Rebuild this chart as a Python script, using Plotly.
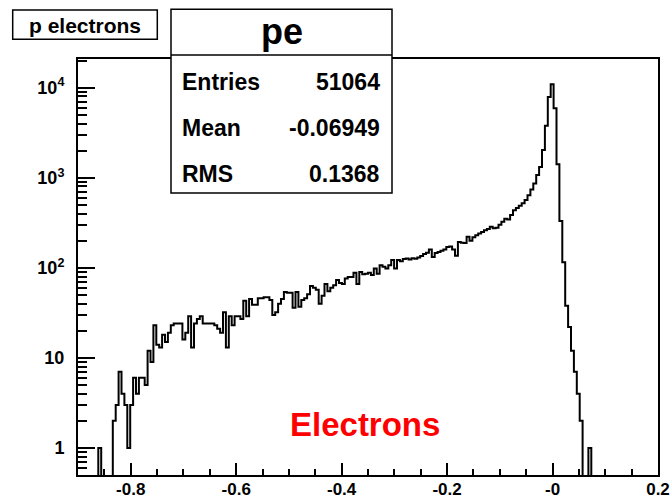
import numpy as np
import plotly.graph_objects as go

# Histogram "pe": 200 bins from -0.9 to 0.2 (bin width 0.0055)
x_min, x_max, n_bins = -0.9, 0.2, 200

counts_low = [0, 0, 0, 0, 0, 0, 0, 1, 0, 0, 0, 0,
              2, 3, 7, 4, 3, 1, 3, 6, 4, 6, 6, 5]
counts_tail = [12, 9, 23, 14, 13, 18, 15, 19, 23, 24,
               24, 24, 16, 19, 29, 13, 24, 27, 29, 24,
               24, 24, 24, 23, 21, 19, 32, 13, 29, 23,
               29, 29, 27, 43, 29]
counts_mid = [45, 39, 39, 46, 46, 47, 47, 44, 30, 32,
              40, 45, 54, 53, 53, 36, 54, 37, 44, 46,
              51, 63, 60, 57, 40, 49, 66, 55, 60, 64,
              73, 68, 66, 76, 79, 79,
              88, 66, 90, 85, 86, 88, 83, 98, 86, 107,
              103, 98, 107, 122, 98, 122]
counts_rise = [118, 125, 127, 124, 128, 126, 130, 135, 142, 147,
               160, 132, 146, 150, 155, 160, 170, 172, 160, 136,
               194, 190, 188, 221, 200, 218, 230, 240, 250, 262,
               270, 285, 275, 278, 300, 324, 350, 345, 385, 437,
               463, 490, 520, 565, 640, 743, 866, 1072, 1320, 2030]
counts_peak = [3780, 7900, 10900, 5900, 1409, 330, 115, 38, 22, 12, 7, 4, 2,
               0, 0, 1]
counts_high = [0] * 23

counts = counts_low + counts_tail + counts_mid + counts_rise + counts_peak + counts_high

stat_labels = ["Entries", "Mean", "RMS"]
stat_values = ["51064", "-0.06949", "0.1368"]

x_tickvals = [-0.8, -0.6, -0.4, -0.2, 0.0, 0.2]
x_ticktext = ["-0.8", "-0.6", "-0.4", "-0.2", "-0", "0.2"]
y_tickvals = [1, 10, 100, 1000, 10000]
y_ticktext = ["1", "10", "10<sup>2</sup>", "10<sup>3</sup>", "10<sup>4</sup>"]

edges = np.linspace(x_min, x_max, n_bins + 1)
vals = np.array(counts, dtype=float)
# empty bins sit below the visible log range so the outline drops to the frame
floor = 0.1
step_y = np.where(vals > 0, vals, floor)
step_y = np.append(step_y, step_y[-1])

W, H = 672, 498
ML, MR, MT, MB = 78, 14, 59, 23
PW, PH = W - ML - MR, H - MT - MB


def px(x, y):
    """Canvas pixel -> paper coordinates."""
    return (x - ML) / PW, (H - MB - y) / PH


FONT = "Liberation Sans"

fig = go.Figure()
fig.add_trace(go.Scatter(
    x=edges, y=step_y, mode="lines", line=dict(color="black", width=2, shape="hv"),
    hoverinfo="skip", showlegend=False,
))

minor_y = [m * 10 ** e for e in range(-1, 5) for m in range(2, 10)]

fig.update_layout(
    width=W, height=H,
    margin=dict(l=ML, r=MR, t=MT, b=MB, autoexpand=False),
    paper_bgcolor="white", plot_bgcolor="white",
    showlegend=False,
    xaxis=dict(
        range=[x_min, x_max], showgrid=False, zeroline=False, automargin=False,
        showline=True, linecolor="black", linewidth=2, mirror=True,
        tickmode="array", tickvals=x_tickvals, ticktext=x_ticktext,
        ticks="inside", ticklen=12, tickwidth=2, tickcolor="black",
        minor=dict(ticks="inside", ticklen=6, tickwidth=2, tickcolor="black",
                   dtick=0.05, tick0=0, showgrid=False),
        tickfont=dict(family=FONT, size=17, color="black", weight="bold"),
        ticklabelstandoff=-2,
    ),
    yaxis=dict(
        type="log", range=[np.log10(0.5), 4.319], showgrid=False, zeroline=False,
        automargin=False,
        showline=True, linecolor="black", linewidth=2, mirror=True,
        tickmode="array", tickvals=y_tickvals, ticktext=y_ticktext,
        ticks="inside", ticklen=17, tickwidth=2, tickcolor="black",
        minor=dict(ticks="inside", ticklen=9, tickwidth=2, tickcolor="black",
                   tickmode="array", tickvals=minor_y, showgrid=False),
        tickfont=dict(family=FONT, size=18, color="black", weight="bold"),
        ticklabelstandoff=8,
    ),
)

shapes = []
annotations = []

# title box
x0, y0 = px(12.7, 39.3)
x1, y1 = px(157.3, 10)
shapes.append(dict(type="rect", xref="paper", yref="paper", x0=x0, y0=y0, x1=x1, y1=y1,
                   line=dict(color="black", width=1.5), fillcolor="white", layer="above"))
tx, ty = px(85, 25)
annotations.append(dict(text="p electrons", xref="paper", yref="paper", x=tx, y=ty,
                        xanchor="center", yanchor="middle", showarrow=False,
                        font=dict(family=FONT, size=21, color="black", weight="bold")))

# statistics box
x0, y0 = px(171, 193)
x1, y1 = px(392, 9.3)
shapes.append(dict(type="rect", xref="paper", yref="paper", x0=x0, y0=y0, x1=x1, y1=y1,
                   line=dict(color="black", width=1.5), fillcolor="white", layer="above"))
lx0, ly = px(171, 55)
lx1, _ = px(392, 55)
shapes.append(dict(type="line", xref="paper", yref="paper", x0=lx0, y0=ly, x1=lx1, y1=ly,
                   line=dict(color="black", width=1.5), layer="above"))
tx, ty = px(281.5, 31)
annotations.append(dict(text="pe", xref="paper", yref="paper", x=tx, y=ty,
                        xanchor="center", yanchor="middle", showarrow=False,
                        font=dict(family=FONT, size=36, color="black", weight="bold")))
row_y = [82, 128, 174]
for lab, val, ry in zip(stat_labels, stat_values, row_y):
    ax, ay = px(180, ry)
    annotations.append(dict(text=lab, xref="paper", yref="paper", x=ax, y=ay,
                            xanchor="left", yanchor="middle", showarrow=False,
                            font=dict(family=FONT, size=23, color="black", weight="bold")))
    bx, by = px(382, ry)
    annotations.append(dict(text=val, xref="paper", yref="paper", x=bx, y=by,
                            xanchor="right", yanchor="middle", showarrow=False,
                            font=dict(family=FONT, size=23, color="black", weight="bold")))

# label inside the frame
ex, ey = px(365, 424)
annotations.append(dict(text="Electrons", xref="paper", yref="paper", x=ex, y=ey,
                        xanchor="center", yanchor="middle", showarrow=False,
                        font=dict(family=FONT, size=33, color="red", weight="bold")))

fig.update_layout(shapes=shapes, annotations=annotations)
fig.write_html("out.html")
